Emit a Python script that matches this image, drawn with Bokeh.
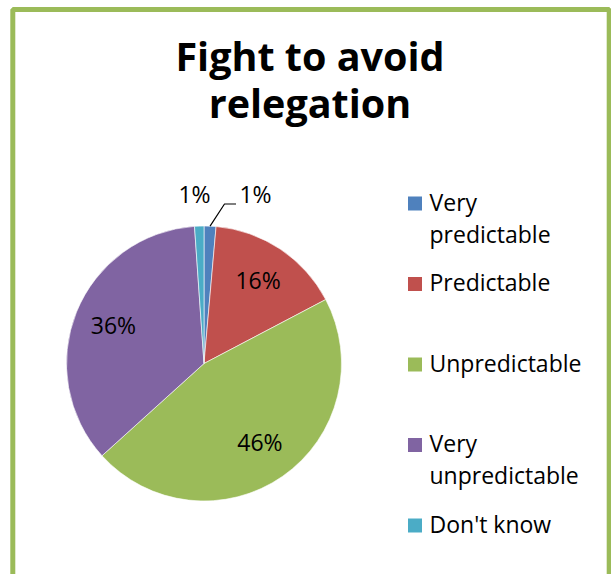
import math
import textwrap
from bokeh.plotting import figure
from bokeh.models import Range1d, ColumnDataSource
from bokeh.core.properties import value
from bokeh.embed import file_html
from bokeh.resources import INLINE

# ---- data ----
title_text = "Fight to avoid relegation"
categories = ["Very predictable", "Predictable", "Unpredictable", "Very unpredictable", "Don't know"]
shares = [1.4, 15.9, 46.0, 35.6, 1.1]
colors = ["#4F81BD", "#C0504D", "#9BBB59", "#8064A2", "#4BACC6"]

# ---- layout (page pixel coordinates) ----
W, H = 611, 574
FONT = "Open Sans"
TITLE_FS, LABEL_FS, LEG_FS = 39.5, 23, 23
ADJ = 0.43  # baseline correction (em)


def Y(py):
    return H - py


p = figure(width=W, height=H, x_range=Range1d(0, W), y_range=Range1d(0, H),
           output_backend="svg", toolbar_location=None, min_border=0,
           x_axis_location=None, y_axis_location=None)
p.grid.visible = False
p.outline_line_color = None
p.background_fill_color = "white"
p.border_fill_color = "white"

# chart-area border
p.quad(left=[12.3], right=[608.7], top=[Y(9)], bottom=[Y(640)], fill_color=None,
       line_color="#9BBB59", line_width=5)

# title
title_lines = textwrap.wrap(title_text, 14)
p.text(x=[309.5] * len(title_lines),
       y=[Y(72.5 + 47 * i - ADJ * TITLE_FS) for i in range(len(title_lines))],
       text=title_lines, text_font=value(FONT), text_font_style="bold",
       text_font_size=f"{TITLE_FS}px",
       text_align="center", text_baseline="alphabetic", text_color="#000000")

# pie
cx, cy, r = 203.5, 363.0, 137.5
total = float(sum(shares))
cum = [0.0]
for s in shares:
    cum.append(cum[-1] + s)
starts = [math.pi / 2 - 2 * math.pi * cum[i] / total for i in range(len(shares))]
ends = [math.pi / 2 - 2 * math.pi * cum[i + 1] / total for i in range(len(shares))]
src = ColumnDataSource(dict(start=starts, end=ends, color=colors, cat=categories))
p.wedge(x=cx, y=Y(cy), radius=r, start_angle="start", end_angle="end", direction="clock",
        fill_color="color", line_color="white", line_width=0.6, source=src)

# data labels
lx, ly, lt = [], [], []
for i, s in enumerate(shares):
    mid = 2 * math.pi * (cum[i] + cum[i + 1]) / 2 / total
    txt = f"{round(s)}%"
    if s >= 5:
        d = 0.71 * r
        x = cx + d * math.sin(mid)
        y = cy - d * math.cos(mid)
    else:
        y = cy - r - 30
        if mid < math.pi:
            x = cx + 51.5
            # leader line
            ax = cx + r * math.sin(mid)
            ay = cy - r * math.cos(mid)
            p.line(x=[ax, x - 31, x - 19.5], y=[Y(ay), Y(y + 8), Y(y + 8)],
                   line_color="black", line_width=1.2)
        else:
            x = cx - 9.5
    lx.append(x)
    ly.append(Y(y + 8 - ADJ * LABEL_FS))
    lt.append(txt)
p.text(x=lx, y=ly, text=lt, text_font=value(FONT), text_font_size=f"{LABEL_FS}px",
       text_align="center", text_baseline="alphabetic", text_color="#000000")

# legend
sq_x, sq_size, txt_x = 414.5, 14, 429
y0, step, line_gap = 203.0, 80.5, 32
lgx, lgy, lgt = [], [], []
for i, cat in enumerate(categories):
    yc = y0 + step * i
    p.rect(x=[sq_x], y=[Y(yc)], width=sq_size, height=sq_size, fill_color=colors[i], line_color=None)
    for j, ln in enumerate(textwrap.wrap(cat, 13)):
        lgx.append(txt_x)
        lgy.append(Y(yc + 8 + line_gap * j - ADJ * LEG_FS))
        lgt.append(ln)
p.text(x=lgx, y=lgy, text=lgt, text_font=value(FONT), text_font_size=f"{LEG_FS}px",
       text_align="left", text_baseline="alphabetic", text_color="#000000")

open("out.html", "w").write(file_html(p, INLINE))
